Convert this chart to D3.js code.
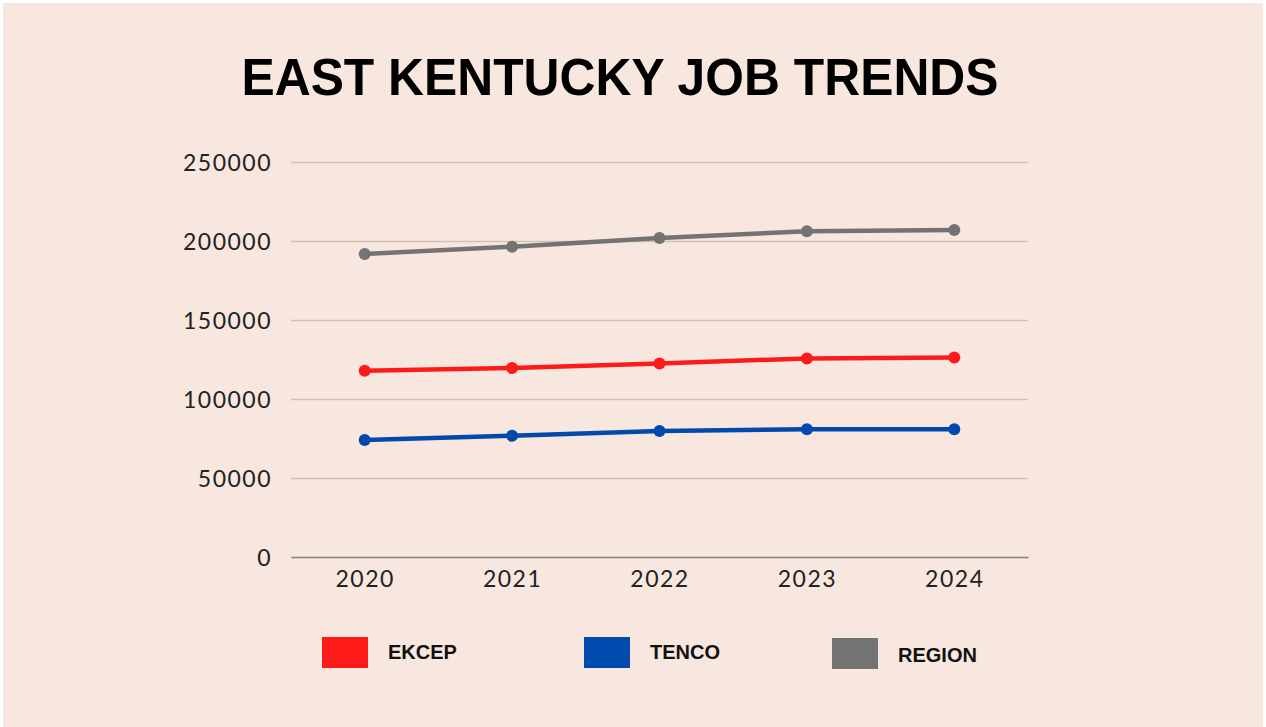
<!DOCTYPE html>
<meta charset="utf-8">
<style>
body { margin: 0; background: #fff; }
.tick text { font-family: Lato, sans-serif; font-size: 23px; fill: #222; letter-spacing: 1.5px; }
.legend text { font-family: "Liberation Sans", Arial, sans-serif; font-weight: bold; font-size: 20px; fill: #111; }
</style>
<body>
<svg width="1266" height="727"></svg>
<script src="https://cdn.jsdelivr.net/npm/d3@7"></script>
<script>
var years = ["2020", "2021", "2022", "2023", "2024"];
var ekcep = [117900, 119600, 122500, 125700, 126300];
var tenco = [74100, 76700, 79800, 80900, 80900];
var region = [191800, 196400, 201900, 206200, 207000];
var yTicks = [0, 50000, 100000, 150000, 200000, 250000];

var series = [
  {name: "EKCEP", values: ekcep, color: "#ff1a1a"},
  {name: "TENCO", values: tenco, color: "#004aad"},
  {name: "REGION", values: region, color: "#737373"}
];

var svg = d3.select("svg");

svg.append("rect")
  .attr("x", 3).attr("y", 3)
  .attr("width", 1260).attr("height", 724)
  .attr("fill", "#f8e7de");

svg.append("text")
  .attr("x", 620).attr("y", 95)
  .attr("text-anchor", "middle")
  .attr("textLength", 757)
  .attr("lengthAdjust", "spacingAndGlyphs")
  .style("font-family", "'Liberation Sans', Arial, sans-serif")
  .style("font-weight", "bold")
  .style("font-size", "52px")
  .style("fill", "#000")
  .text("EAST KENTUCKY JOB TRENDS");

var plotLeft = 291, plotRight = 1028, plotTop = 162, plotBottom = 557;

var x = d3.scalePoint().domain(years).range([plotLeft, plotRight]).padding(0.5);
var y = d3.scaleLinear().domain([0, 250000]).range([plotBottom, plotTop]);

// gridlines + y labels
var yAxis = svg.append("g")
  .attr("transform", "translate(" + plotLeft + ",0)")
  .call(d3.axisLeft(y).tickValues(yTicks).tickSize(-(plotRight - plotLeft)).tickPadding(19).tickFormat(d3.format("d")));
yAxis.select(".domain").remove();
yAxis.selectAll(".tick line").attr("stroke", "#cfc2b8").attr("stroke-width", 1.3);
yAxis.selectAll(".tick text").attr("dy", "0.38em");

// x axis
var xAxis = svg.append("g")
  .attr("transform", "translate(0," + plotBottom + ")")
  .call(d3.axisBottom(x).tickSize(0).tickPadding(30));
xAxis.select(".domain").attr("stroke", "#8d8782").attr("stroke-width", 1.6);
xAxis.selectAll(".tick text").attr("dy", "0");

var line = d3.line()
  .x(function(d, i) { return x(years[i]); })
  .y(function(d) { return y(d); });

series.forEach(function(s) {
  svg.append("path")
    .datum(s.values)
    .attr("fill", "none")
    .attr("stroke", s.color)
    .attr("stroke-width", 4.5)
    .attr("d", line);
  svg.selectAll(null)
    .data(s.values)
    .enter().append("circle")
    .attr("cx", function(d, i) { return x(years[i]); })
    .attr("cy", function(d) { return y(d); })
    .attr("r", 6)
    .attr("fill", s.color);
});

// legend
var legendX = [322, 584, 832];
var legendY = [637, 637, 638];
var legend = svg.append("g").attr("class", "legend");
series.forEach(function(s, i) {
  legend.append("rect")
    .attr("x", legendX[i]).attr("y", legendY[i])
    .attr("width", 46).attr("height", 31)
    .attr("fill", s.color);
  legend.append("text")
    .attr("x", legendX[i] + 66).attr("y", legendY[i] + 22 + (i == 2 ? 2 : 0))
    .text(s.name);
});
</script>
</body>
